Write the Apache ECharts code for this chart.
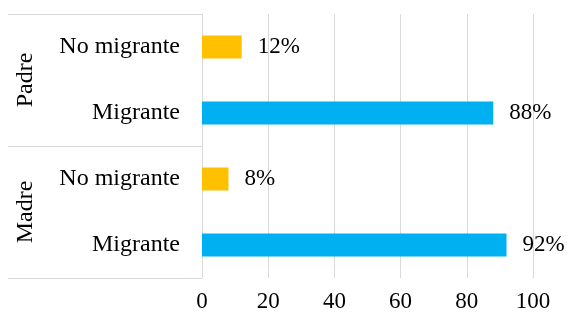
<!DOCTYPE html>
<html>
<head>
<meta charset="utf-8">
<script src="https://cdn.jsdelivr.net/npm/echarts@6/dist/echarts.min.js"></script>
<style>
  html, body { margin: 0; padding: 0; background: #fff; }
  #chart { width: 567px; height: 316px; }
</style>
</head>
<body>
<div id="chart"></div>
<script>
// data
const categories = ['No migrante', 'Migrante', 'No migrante', 'Migrante'];
const groups = ['Padre', 'Madre'];
const values = [12, 88, 8, 92];
const xTicks = [0, 20, 40, 60, 80, 100];

const font = "'Liberation Serif', 'Times New Roman', serif";
const gridColor = '#D9D9D9';

const chart = echarts.init(document.getElementById('chart'));

const option = {
  animation: false,
  grid: { left: 202, right: 34, top: 14, bottom: 38 },
  xAxis: {
    type: 'value',
    min: xTicks[0],
    max: xTicks[xTicks.length - 1],
    interval: 20,
    axisLine: { show: false },
    axisTick: { show: false },
    axisLabel: { color: '#000', fontFamily: font, fontSize: 23, margin: 12 },
    splitLine: { lineStyle: { color: gridColor, width: 1 } }
  },
  yAxis: [
    {
      type: 'category',
      data: categories,
      inverse: true,
      axisLine: { show: true, lineStyle: { color: gridColor } },
      axisTick: { show: false },
      axisLabel: {
        color: '#000', fontFamily: font, fontSize: 24, margin: 22,
        formatter: (v, i) => categories[i]
      }
    },
    {
      // group boxes: Padre / Madre
      type: 'category',
      data: groups,
      inverse: true,
      position: 'left',
      axisLine: { show: false },
      axisTick: { show: true, length: 194, lineStyle: { color: gridColor, width: 1 } },
      axisLabel: {
        color: '#000', fontFamily: font, fontSize: 24, rotate: 90, margin: 164
      }
    }
  ],
  series: [
    {
      type: 'bar',
      yAxisIndex: 0,
      data: values,
      barWidth: 23,
      itemStyle: {
        color: p => (categories[p.dataIndex] === 'Migrante' ? '#00B0F0' : '#FFC000')
      },
      label: {
        show: true,
        position: 'right',
        distance: 16,
        color: '#000',
        fontFamily: font,
        fontSize: 23,
        formatter: '{c}%'
      }
    }
  ]
};

chart.setOption(option);
</script>
</body>
</html>
